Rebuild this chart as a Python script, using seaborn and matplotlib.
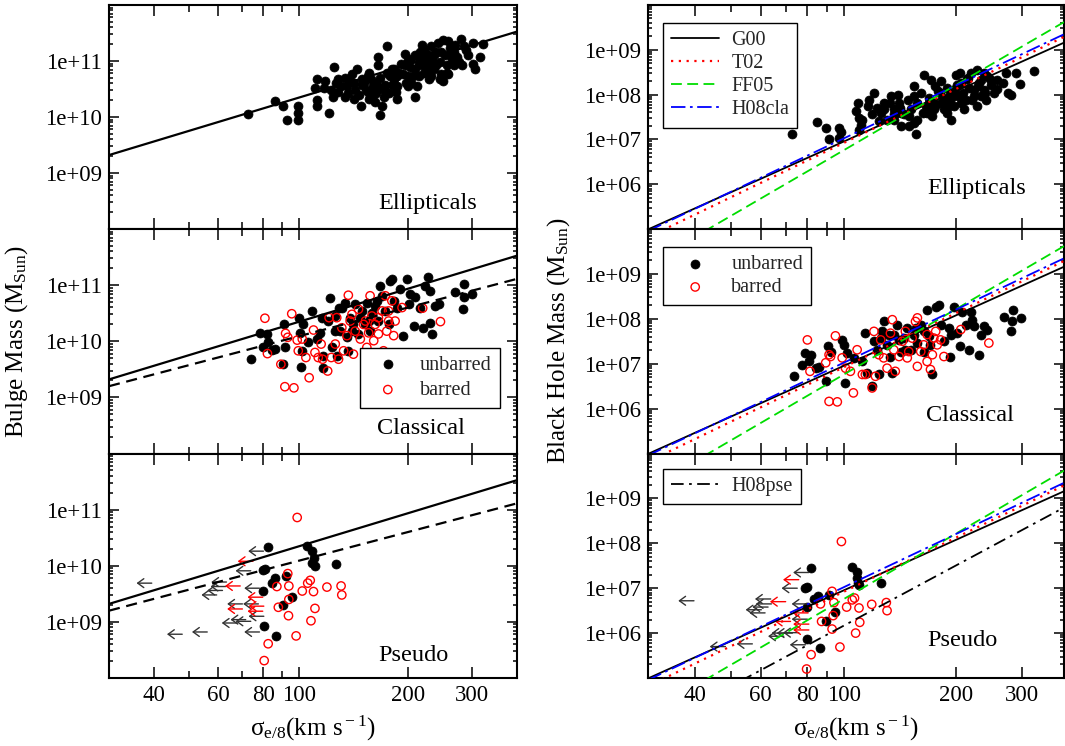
import numpy as np
import pandas as pd
import seaborn as sns
import matplotlib.pyplot as plt
from matplotlib.ticker import FixedLocator, LogLocator, NullFormatter, FuncFormatter

# ---------------- data (log10 values) ----------------
# Ellipticals: bulge mass vs sigma
ell_lsig_b = [1.859, 1.934, 1.958, 1.968, 1.997, 1.997, 1.997, 2.050, 2.045, 2.050, 2.050, 2.074, 2.084,
              2.098, 2.103, 2.108, 2.127, 2.132, 2.127, 2.147, 2.152, 2.161, 2.166, 2.171, 2.176, 2.185,
              2.195, 2.205, 2.210, 2.214, 2.219, 2.219, 2.224, 2.229, 2.224, 2.239, 2.243, 2.248, 2.258,
              2.263, 2.272, 2.282, 2.287, 2.292, 2.297, 2.306, 2.311, 2.316, 2.321, 2.326, 2.331, 2.335,
              2.340, 2.345, 2.350, 2.355, 2.360, 2.364, 2.369, 2.374, 2.379, 2.384, 2.389, 2.393, 2.398,
              2.398, 2.403, 2.408, 2.418, 2.422, 2.427, 2.432, 2.447, 2.456, 2.466, 2.480, 2.480, 2.485,
              2.500, 2.509, 2.156, 2.181, 2.195, 2.234, 2.253, 2.268, 2.277, 2.302, 2.311, 2.331, 2.340,
              2.360, 2.374, 2.389, 2.413, 2.422, 2.437, 2.451, 2.360, 2.321, 2.302, 2.258, 2.200, 2.118,
              2.089, 2.069, 2.094, 2.108, 2.137, 2.152, 2.176, 2.190, 2.205, 2.214, 2.224, 2.243, 2.263,
              2.272, 2.292, 2.302, 2.321, 2.335, 2.350, 2.364, 2.379, 2.393, 2.408, 2.413, 2.427, 2.442,
              2.461, 2.345, 2.272, 2.234, 2.190, 2.142]
ell_lmb = [10.05, 10.28, 10.19, 9.94, 9.94, 10.19, 10.08, 10.67, 10.51, 10.30, 10.20, 10.64, 10.08,
           10.89, 10.61, 10.45, 10.70, 10.55, 10.36, 10.76, 10.61, 10.85, 10.39, 10.20, 10.67, 10.48,
           10.79, 10.55, 10.27, 10.42, 10.92, 11.07, 10.70, 10.20, 10.04, 10.58, 11.27, 10.42, 10.85,
           10.67, 10.55, 10.95, 10.76, 11.13, 10.61, 10.89, 11.04, 10.73, 10.36, 10.55, 10.95, 11.16,
           11.29, 10.79, 11.07, 10.92, 10.67, 11.26, 11.01, 10.85, 11.16, 11.32, 10.98, 10.76, 10.64,
           11.38, 11.10, 10.92, 11.23, 11.04, 10.92, 11.29, 11.40, 11.26, 11.10, 11.32, 10.95, 10.85,
           11.07, 11.30, 10.48, 10.61, 10.33, 10.48, 10.73, 10.45, 10.79, 10.73, 10.61, 10.73, 10.92,
           10.82, 11.10, 10.67, 10.76, 11.16, 11.07, 10.92, 11.10, 10.85, 11.01, 10.58, 10.67, 10.55,
           10.48, 10.51, 10.36, 10.67, 10.42, 10.33, 10.58, 10.73, 10.39, 10.61, 10.51, 10.79, 10.85,
           10.73, 10.92, 10.55, 11.10, 11.01, 10.85, 10.73, 10.92, 11.16, 10.79, 11.35, 11.16, 10.98,
           11.20, 11.20, 10.33, 10.36, 10.45, 10.64]

# Ellipticals: black hole mass vs sigma
ell_lsig_h = [1.863, 1.930, 1.952, 1.961, 1.988, 1.992, 1.988, 2.037, 2.032, 2.041, 2.046, 2.041, 2.064,
              2.081, 2.077, 2.090, 2.099, 2.108, 2.117, 2.126, 2.135, 2.144, 2.148, 2.153, 2.162, 2.171,
              2.179, 2.188, 2.188, 2.193, 2.197, 2.206, 2.211, 2.215, 2.220, 2.228, 2.237, 2.242, 2.251,
              2.260, 2.268, 2.277, 2.282, 2.286, 2.295, 2.300, 2.304, 2.313, 2.318, 2.322, 2.331, 2.335,
              2.340, 2.344, 2.357, 2.357, 2.362, 2.367, 2.375, 2.384, 2.393, 2.402, 2.425, 2.433, 2.438,
              2.447, 2.460, 2.508, 2.470, 2.135, 2.153, 2.175, 2.224, 2.242, 2.260, 2.277, 2.295, 2.309,
              2.327, 2.349, 2.367, 2.380, 2.411, 2.375, 2.313, 2.282, 2.233, 2.049, 2.067, 2.094, 2.107,
              2.125, 2.134, 2.151, 2.174, 2.187, 2.196, 2.227, 2.245, 2.258, 2.267, 2.285, 2.298, 2.316,
              2.329, 2.347, 2.360, 2.378, 2.392, 2.409, 2.312, 2.245]
ell_lmh = [7.13, 7.39, 7.26, 7.01, 7.26, 7.16, 7.04, 7.81, 7.63, 7.48, 7.33, 7.22, 7.74,
           8.04, 7.56, 7.70, 7.59, 7.81, 7.44, 7.96, 7.67, 8.00, 7.81, 7.30, 7.56, 7.89,
           7.67, 8.19, 7.37, 7.11, 7.81, 8.04, 7.59, 8.44, 7.74, 7.93, 7.52, 7.81, 8.07,
           8.30, 7.89, 8.15, 7.74, 7.44, 7.96, 8.44, 8.22, 7.81, 8.04, 7.67, 8.37, 8.15,
           8.48, 7.89, 8.56, 7.74, 8.26, 7.96, 8.11, 8.41, 8.22, 8.04, 8.26, 8.48, 8.04,
           7.98, 8.48, 8.53, 8.24, 7.44, 7.59, 7.30, 7.59, 7.67, 7.81, 7.59, 7.74, 7.96,
           7.89, 8.11, 8.33, 7.89, 8.33, 8.48, 8.26, 7.96, 8.33, 7.44, 7.89, 7.41, 7.67,
           7.82, 7.56, 7.71, 7.52, 7.97, 7.44, 7.82, 7.74, 8.04, 7.67, 7.89, 8.12, 7.89,
           8.34, 7.97, 8.19, 8.04, 8.34, 8.12, 8.49, 8.19]

# Classical bulges: bulge mass, unbarred
cla_un_lsig_b = [1.868, 1.893, 1.903, 1.912, 1.916, 1.926, 1.935, 1.961, 1.962, 1.958, 2.000, 2.004, 2.009,
                 2.007, 2.013, 2.027, 2.036, 2.059, 2.066, 2.068, 2.082, 2.087, 2.091, 2.101, 2.105, 2.114,
                 2.119, 2.128, 2.133, 2.142, 2.151, 2.156, 2.165, 2.174, 2.184, 2.188, 2.197, 2.202, 2.211,
                 2.220, 2.225, 2.230, 2.239, 2.243, 2.253, 2.257, 2.262, 2.271, 2.280, 2.289, 2.298, 2.303,
                 2.308, 2.317, 2.322, 2.335, 2.344, 2.349, 2.358, 2.363, 2.368, 2.363, 2.377, 2.386, 2.432,
                 2.455, 2.455, 2.453, 2.478, 2.101, 2.147, 2.170, 2.193, 2.216, 2.248, 2.110, 2.064, 2.050,
                 2.137]
cla_un_lmb = [9.68, 10.15, 9.90, 10.13, 9.98, 9.84, 9.86, 10.30, 9.90, 9.60, 10.41, 10.15, 9.83,
              9.54, 10.30, 9.98, 10.54, 10.15, 9.74, 9.53, 10.36, 10.77, 9.89, 10.45, 9.74, 10.18,
              10.60, 10.69, 10.07, 10.42, 10.30, 10.66, 10.13, 10.54, 10.30, 10.69, 10.18, 10.51, 10.63,
              10.36, 10.99, 10.81, 10.54, 9.71, 11.08, 11.11, 10.72, 10.60, 10.93, 10.10, 11.11, 10.66,
              10.84, 10.27, 10.78, 10.60, 10.24, 10.99, 11.14, 10.90, 10.13, 10.33, 10.63, 10.66, 10.87,
              11.02, 10.78, 10.57, 10.85, 10.18, 10.18, 10.42, 10.36, 10.72, 10.30, 10.60, 10.42, 10.04,
              9.83]
# Classical bulges: bulge mass, barred
cla_ba_lsig_b = [1.907, 1.914, 1.951, 1.964, 1.962, 1.970, 1.981, 1.987, 1.996, 1.999, 2.010, 2.020, 2.029,
                 2.041, 2.045, 2.054, 2.062, 2.066, 2.080, 2.084, 2.090, 2.101, 2.105, 2.110, 2.119, 2.124,
                 2.133, 2.137, 2.142, 2.151, 2.156, 2.165, 2.170, 2.179, 2.188, 2.193, 2.197, 2.202, 2.207,
                 2.211, 2.220, 2.230, 2.234, 2.239, 2.243, 2.248, 2.257, 2.262, 2.266, 2.285, 2.342, 2.391,
                 2.147, 2.184, 2.220, 2.248]
cla_ba_lmb = [10.41, 9.78, 9.59, 10.14, 9.19, 10.07, 10.49, 9.17, 10.02, 9.83, 10.04, 9.71, 9.35,
              10.20, 9.80, 9.71, 9.95, 9.68, 9.47, 10.42, 9.71, 9.95, 10.42, 9.68, 10.24, 9.83,
              10.10, 10.82, 10.36, 9.77, 10.18, 10.57, 10.04, 10.30, 9.89, 10.15, 10.81, 10.45, 10.01,
              10.30, 10.13, 10.54, 9.83, 10.81, 10.18, 10.36, 10.72, 10.10, 10.36, 10.60, 10.59, 10.35,
              10.48, 10.36, 10.42, 10.54]

# Classical bulges: black hole mass, unbarred
cla_un_lsig_h = [1.867, 1.889, 1.898, 1.907, 1.913, 1.925, 1.934, 1.958, 1.954, 1.965, 1.996, 2.001, 2.003,
                 2.010, 2.027, 2.050, 2.058, 2.063, 2.076, 2.081, 2.090, 2.094, 2.103, 2.107, 2.116, 2.125,
                 2.130, 2.134, 2.143, 2.152, 2.161, 2.170, 2.179, 2.188, 2.197, 2.206, 2.214, 2.223, 2.228,
                 2.237, 2.246, 2.255, 2.259, 2.268, 2.281, 2.284, 2.295, 2.304, 2.311, 2.317, 2.326, 2.335,
                 2.339, 2.344, 2.348, 2.361, 2.366, 2.375, 2.384, 2.428, 2.446, 2.451, 2.453, 2.473, 2.099,
                 2.121, 2.148, 2.165, 2.192, 2.214, 2.232, 2.286]
cla_un_lmh = [6.72, 6.98, 7.24, 7.05, 7.20, 6.90, 6.92, 7.39, 6.62, 7.27, 7.53, 7.42, 6.57,
              7.24, 7.13, 7.05, 7.68, 6.79, 6.50, 7.50, 7.31, 6.76, 7.72, 7.94, 7.42, 7.16,
              6.79, 7.65, 7.87, 7.27, 7.57, 7.79, 7.31, 7.65, 7.46, 7.87, 7.27, 8.20, 7.61,
              6.76, 8.27, 8.31, 7.87, 7.50, 7.79, 7.16, 8.27, 7.68, 7.39, 8.16, 7.87, 7.31,
              8.16, 7.98, 7.83, 7.20, 7.65, 7.83, 7.76, 8.05, 7.72, 7.94, 8.20, 8.02, 7.57,
              7.65, 7.53, 7.31, 7.79, 7.72, 7.42, 7.65]
# Classical bulges: black hole mass, barred
cla_ba_lsig_h = [1.903, 1.910, 1.952, 1.961, 1.961, 1.965, 1.978, 1.983, 1.996, 2.005, 2.018, 2.026, 2.036,
                 2.050, 2.058, 2.076, 2.081, 2.085, 2.094, 2.099, 2.107, 2.116, 2.125, 2.130, 2.134, 2.138,
                 2.148, 2.157, 2.165, 2.170, 2.174, 2.183, 2.192, 2.197, 2.206, 2.214, 2.223, 2.232, 2.237,
                 2.241, 2.250, 2.259, 2.268, 2.313, 2.388, 2.197, 2.223, 2.246]
cla_ba_lmh = [7.53, 6.83, 7.02, 7.20, 6.16, 7.16, 7.62, 6.15, 7.13, 6.90, 6.83, 6.35, 7.31,
              6.76, 6.76, 6.46, 7.72, 6.72, 7.20, 7.53, 7.13, 6.90, 7.68, 7.98, 7.31, 6.83,
              7.16, 7.50, 7.72, 7.13, 7.27, 7.57, 7.94, 6.94, 7.27, 7.42, 7.05, 6.87, 7.20,
              7.57, 7.42, 7.53, 7.16, 7.76, 7.46, 8.02, 7.65, 7.72]

# Pseudo bulges: detections
pse_un_lsig_b = [1.916, 1.903, 1.907, 1.901, 1.904, 1.926, 1.935, 1.937, 1.958, 1.964, 1.981, 2.022, 2.038,
                 2.041, 2.036, 2.044, 2.102]
pse_un_lmb = [10.33, 9.93, 9.94, 9.55, 8.92, 9.70, 9.78, 8.74, 9.30, 9.81, 9.45, 10.35, 10.26,
              10.14, 10.05, 9.99, 10.03]
pse_ba_lsig_b = [1.996, 1.970, 1.940, 1.973, 1.973, 1.944, 1.972, 1.993, 1.916, 1.905, 2.010, 2.025, 2.032,
                 2.041, 2.045, 2.034, 2.078, 2.117, 2.119]
pse_ba_lmb = [10.86, 9.86, 9.63, 9.64, 9.40, 9.26, 9.11, 8.75, 8.61, 8.31, 9.55, 9.69, 9.74,
              9.54, 9.24, 9.02, 9.62, 9.64, 9.48]
pse_un_lsig_h = [1.914, 1.898, 1.903, 1.901, 1.901, 1.920, 1.931, 1.938, 1.954, 1.961, 1.977, 2.021, 2.036,
                 2.036, 2.038, 2.041, 2.099]
pse_un_lmh = [7.44, 7.00, 7.02, 6.59, 5.87, 6.76, 6.82, 5.67, 6.28, 6.84, 6.47, 7.47, 7.37,
              7.22, 7.11, 7.07, 7.11]
pse_ba_lsig_h = [1.994, 1.969, 1.938, 1.974, 1.972, 1.941, 1.969, 1.990, 1.913, 1.901, 2.008, 2.023, 2.029,
                 2.041, 2.043, 2.032, 2.075, 2.114, 2.116]
pse_ba_lmh = [8.04, 6.93, 6.65, 6.68, 6.39, 6.26, 6.09, 5.69, 5.52, 5.20, 6.58, 6.74, 6.78,
              6.56, 6.24, 6.00, 6.64, 6.68, 6.50]

# Pseudo bulges: sigma upper limits (arrows)
lim_un_lsig_b = [1.595, 1.679, 1.748, 1.774, 1.790, 1.799, 1.801, 1.830, 1.845, 1.854, 1.868, 1.868, 1.889,
                 1.892, 1.892, 1.903, 1.904]
lim_un_lmb = [9.69, 8.78, 8.82, 9.48, 9.56, 9.63, 9.71, 8.98, 9.32, 9.04, 9.91, 9.01, 9.32,
              9.60, 8.82, 10.26, 9.10]
lim_ba_lsig_b = [1.839, 1.845, 1.874, 1.901, 1.901, 1.904]
lim_ba_lmb = [9.64, 9.23, 10.08, 9.44, 9.19, 9.28]
lim_un_lsig_h = [1.600, 1.684, 1.756, 1.780, 1.790, 1.798, 1.805, 1.807, 1.840, 1.849, 1.863, 1.876, 1.880,
                 1.898, 1.903, 1.903, 1.907]
lim_un_lmh = [6.72, 5.70, 5.76, 6.52, 6.45, 6.58, 6.76, 6.65, 5.93, 6.00, 6.00, 7.00, 6.01,
              5.74, 6.65, 6.31, 7.35]
lim_ba_lsig_h = [1.845, 1.858, 1.880, 1.905, 1.907, 1.907]
lim_ba_lmh = [6.70, 6.26, 7.19, 6.45, 6.07, 6.20]

# relations: log M = a + b log(sigma/200)
bulge_fits = {"all": (10.935, 1.96), "cla": (10.60, 1.70)}
bh_names = ["G00", "T02", "FF05", "H08cla"]
bh_a = [8.08, 8.13, 8.22, 8.21]
bh_b = [3.75, 4.02, 4.86, 3.95]
pse_fit = ("H08pse", 7.51, 4.47)

panel_names = ["Ellipticals", "Classical", "Pseudo"]
x_major = [40, 60, 80, 100, 200, 300]
x_minor = [50, 70, 90]

# ---------------- style ----------------
sns.set_theme(style="ticks")
plt.rcParams["font.family"] = ["Liberation Serif", "DejaVu Serif"]
plt.rcParams["mathtext.fontset"] = "custom"
plt.rcParams["mathtext.rm"] = "Liberation Serif"
plt.rcParams["mathtext.it"] = "Liberation Serif:italic"
plt.rcParams["axes.linewidth"] = 1.5
plt.rcParams["axes.edgecolor"] = "black"

fig = plt.figure(figsize=(10.65, 7.46), dpi=100)
W, H = 1065, 746
col_x = [(109, 517, 400), (648, 1064, 388)]
row_y = [(5, 229), (229, 453.5), (453.5, 678)]

axes = [[None] * 3 for _ in range(2)]
for c, (x0, x1, xhi) in enumerate(col_x):
    for r, (y0, y1) in enumerate(row_y):
        ax = fig.add_axes([x0 / W, 1 - y1 / H, (x1 - x0) / W, (y1 - y0) / H])
        ax.set_xscale("log")
        ax.set_yscale("log")
        ax.set_xlim(30, xhi)
        axes[c][r] = ax

def style(ax, ylo, yhi, show_x):
    ax.set_ylim(10.0 ** ylo, 10.0 ** yhi)
    ax.xaxis.set_major_locator(FixedLocator(x_major))
    ax.xaxis.set_minor_locator(FixedLocator(x_minor))
    ax.xaxis.set_major_formatter(FuncFormatter(lambda v, p: f"{v:.0f}"))
    ax.xaxis.set_minor_formatter(NullFormatter())
    ax.yaxis.set_major_locator(FixedLocator(10.0 ** np.arange(ylo + 1, yhi)))
    ax.yaxis.set_minor_locator(LogLocator(base=10, subs=np.arange(2, 10) * 1.0, numticks=30))
    ax.yaxis.set_major_formatter(FuncFormatter(lambda v, p: f"{v:.0e}"))
    ax.yaxis.set_minor_formatter(NullFormatter())
    ax.tick_params(which="both", direction="in", top=True, right=True, width=1.1,
                   color="black", labelsize=16.5, labelcolor="black")
    ax.tick_params(axis="x", which="major", length=8, pad=5)
    ax.tick_params(axis="x", which="minor", length=5)
    ax.tick_params(axis="y", which="major", length=7, pad=5)
    ax.tick_params(axis="y", which="minor", length=3)
    ax.tick_params(axis="x", labelbottom=show_x)
    ax.set_xlabel("")
    ax.set_ylabel("")
    ax.grid(False)

def points(ax, lsig, lm, filled, label=None):
    df = pd.DataFrame({"sig": 10.0 ** np.array(lsig), "m": 10.0 ** np.array(lm)})
    if filled:
        sns.scatterplot(data=df, x="sig", y="m", ax=ax, s=42, color="black",
                        edgecolor="black", linewidth=0.5, label=label, zorder=2)
    else:
        sns.scatterplot(data=df, x="sig", y="m", ax=ax, s=36, facecolor="none",
                        edgecolor="#ff0000", linewidth=1.0, label=label, zorder=2)

def fit_line(ax, a, b, xhi, **kw):
    sig = np.array([30.0, xhi])
    df = pd.DataFrame({"sig": sig, "m": 10.0 ** (a + b * np.log10(sig / 200.0))})
    sns.lineplot(data=df, x="sig", y="m", ax=ax, zorder=3, **kw)

def arrows(ax, lsig, lm, color):
    for s, m in zip(lsig, lm):
        ax.annotate("", xy=(10 ** (s - 0.042), 10 ** m), xytext=(10 ** s, 10 ** m),
                    arrowprops=dict(arrowstyle="->,head_length=0.22,head_width=0.16",
                                    color=color, lw=1.0, shrinkA=0, shrinkB=0,
                                    mutation_scale=20))

bh_styles = [dict(color="black", linestyle="-", linewidth=1.3),
             dict(color="#ff0000", linestyle=(0, (1, 2.5)), linewidth=1.6),
             dict(color="#00dd00", linestyle=(0, (6, 3)), linewidth=1.3),
             dict(color="#0000ff", linestyle=(0, (8, 2.5, 1.5, 2.5)), linewidth=1.3)]

# ---------------- left column: bulge mass ----------------
L = axes[0]
points(L[0], ell_lsig_b, ell_lmb, True)
points(L[1], cla_un_lsig_b, cla_un_lmb, True, "unbarred")
points(L[1], cla_ba_lsig_b, cla_ba_lmb, False, "barred")
points(L[2], pse_un_lsig_b, pse_un_lmb, True)
points(L[2], pse_ba_lsig_b, pse_ba_lmb, False)
arrows(L[2], lim_un_lsig_b, lim_un_lmb, "#333333")
arrows(L[2], lim_ba_lsig_b, lim_ba_lmb, "#ff0000")
for r in range(3):
    fit_line(L[r], *bulge_fits["all"], 400, color="black", linewidth=1.6)
    if r > 0:
        fit_line(L[r], *bulge_fits["cla"], 400, color="black", linewidth=1.6,
                 linestyle=(0, (5, 3)))
    style(L[r], 8, 12, r == 2)
leg = L[1].legend(loc="lower right", bbox_to_anchor=(0.958, 0.203), borderaxespad=0,
                  fontsize=14.5, frameon=True, fancybox=False, framealpha=1,
                  edgecolor="black", scatterpoints=1, handletextpad=0.6,
                  borderpad=0.4, labelspacing=0.3)
leg.get_frame().set_linewidth(1.0)
for r in (0, 2):
    if L[r].get_legend():
        L[r].get_legend().remove()

# ---------------- right column: black hole mass ----------------
R = axes[1]
points(R[0], ell_lsig_h, ell_lmh, True)
points(R[1], cla_un_lsig_h, cla_un_lmh, True, "unbarred")
points(R[1], cla_ba_lsig_h, cla_ba_lmh, False, "barred")
points(R[2], pse_un_lsig_h, pse_un_lmh, True)
points(R[2], pse_ba_lsig_h, pse_ba_lmh, False)
arrows(R[2], lim_un_lsig_h, lim_un_lmh, "#333333")
arrows(R[2], lim_ba_lsig_h, lim_ba_lmh, "#ff0000")
for r in range(3):
    for name, a, b, st in zip(bh_names, bh_a, bh_b, bh_styles):
        fit_line(R[r], a, b, 388, label=name if r == 0 else None, **st)
    if r == 2:
        fit_line(R[r], pse_fit[1], pse_fit[2], 388, label=pse_fit[0], color="black",
                 linewidth=1.3, linestyle=(0, (7, 3, 1.5, 3)))
    style(R[r], 5, 10, r == 2)

leg_kw = dict(loc="upper left", borderaxespad=0, fontsize=14.5, frameon=True,
              fancybox=False, framealpha=1, edgecolor="black", handlelength=2.4,
              handletextpad=0.6, borderpad=0.4, labelspacing=0.2, scatterpoints=1)
h0 = R[0].get_lines()[:4]
lg = R[0].legend(handles=h0, labels=bh_names, bbox_to_anchor=(0.036, 0.92), **leg_kw)
lg.get_frame().set_linewidth(1.0)
h1 = R[1].collections[:2]
lg = R[1].legend(handles=h1, labels=["unbarred", "barred"], bbox_to_anchor=(0.036, 0.92), **leg_kw)
lg.get_frame().set_linewidth(1.0)
h2 = [R[2].get_lines()[-1]]
lg = R[2].legend(handles=h2, labels=[pse_fit[0]], bbox_to_anchor=(0.036, 0.93), **leg_kw)
lg.get_frame().set_linewidth(1.0)

# ---------------- panel labels and axis titles ----------------
lab_pos = [[(0.78, 0.116), (0.765, 0.11), (0.745, 0.10)],
           [(0.79, 0.18), (0.775, 0.17), (0.755, 0.165)]]
for c in range(2):
    for r in range(3):
        x, y = lab_pos[c][r]
        axes[c][r].text(x, y, panel_names[r], transform=axes[c][r].transAxes,
                        ha="center", va="center", fontsize=17.5, color="black")

xlab = r"σ$_{\rm e/8}$(km s$^{\rm -1}$)"
for c in range(2):
    axes[c][2].set_xlabel(xlab, fontsize=18, labelpad=6, color="black")
L[1].set_ylabel(r"Bulge Mass (M$_{\rm Sun}$)", fontsize=18, color="black")
L[1].yaxis.set_label_coords(-0.194, 0.5)
R[1].set_ylabel(r"Black Hole Mass (M$_{\rm Sun}$)", fontsize=18, color="black")
R[1].yaxis.set_label_coords(-0.183, 0.5)

fig.savefig("out.png", dpi=100, facecolor="white")
